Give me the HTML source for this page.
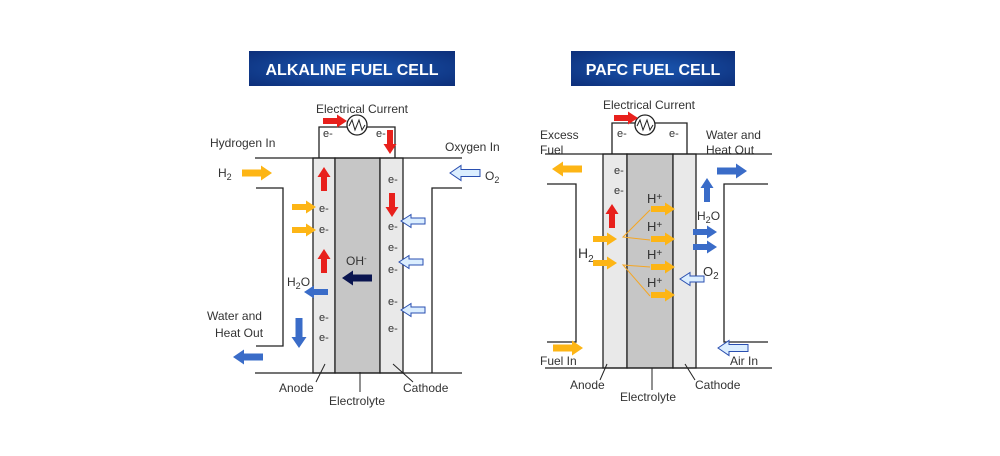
<!DOCTYPE html>
<html><head><meta charset="utf-8"><style>
html,body{margin:0;padding:0;background:#fff;width:1000px;height:456px;overflow:hidden}
svg{display:block}
text{font-family:"Liberation Sans",Arial,sans-serif;fill:#333}
.b{fill:url(#bg)}
</style></head><body>
<svg width="1000" height="456" viewBox="0 0 1000 456" xmlns="http://www.w3.org/2000/svg">
<defs>
<radialGradient id="bg" cx="50%" cy="50%" r="70%"><stop offset="0" stop-color="#1a56b0"/><stop offset="1" stop-color="#0d2f7a"/></radialGradient>
<polygon id="ar" points="0,-3.5 19,-3.5 19,-7.5 30,0 19,7.5 19,3.5 0,3.5"/>
<polygon id="ars" points="0,-3 14,-3 14,-6.5 24,0 14,6.5 14,3 0,3"/>
</defs>
<rect x="249" y="51" width="206" height="35" class="b"/>
<text x="352" y="75" text-anchor="middle" font-size="16" font-weight="bold" style="fill:#fff">ALKALINE FUEL CELL</text>
<rect x="571" y="51" width="164" height="35" class="b"/>
<text x="653" y="75" text-anchor="middle" font-size="16" font-weight="bold" style="fill:#fff">PAFC FUEL CELL</text>

<g stroke="#222" stroke-width="1.3" fill="none">
<rect x="313" y="158" width="22" height="215" fill="#e9e9e9"/>
<rect x="335" y="158" width="45" height="215" fill="#c6c6c6"/>
<rect x="380" y="158" width="23" height="215" fill="#e9e9e9"/>
<line x1="255" y1="158" x2="462" y2="158"/>
<line x1="255" y1="373" x2="462" y2="373"/>
<polyline points="256,188 283,188 283,346 256,346"/>
<polyline points="462,188 432,188 432,373"/>
<polyline points="319,158 319,127 395,127 395,158"/>
<circle cx="357" cy="125" r="10" fill="#fff"/>
<polyline points="349,126 352,120 355,130 359,120 362,130 365,125" stroke-width="1"/>
<line x1="316" y1="382" x2="325" y2="364" stroke-width="1"/>
<line x1="360" y1="372" x2="360" y2="392" stroke-width="1"/>
<line x1="393" y1="364" x2="413" y2="382" stroke-width="1"/>
</g>
<text x="362" y="113" text-anchor="middle" font-size="12">Electrical Current</text>
<text x="210" y="147" font-size="12">Hydrogen In</text>
<text x="218" y="177" font-size="12">H<tspan font-size="9" dy="3">2</tspan></text>
<text x="445" y="151" font-size="12">Oxygen In</text>
<text x="485" y="180" font-size="12">O<tspan font-size="9" dy="3">2</tspan></text>
<text x="346" y="265" font-size="12">OH<tspan font-size="8" dy="-4">-</tspan></text>
<text x="287" y="286" font-size="12">H<tspan font-size="9" dy="3">2</tspan><tspan dy="-3">O</tspan></text>
<text x="207" y="320" font-size="12">Water and</text>
<text x="215" y="337" font-size="12">Heat Out</text>
<text x="279" y="392" font-size="12">Anode</text>
<text x="329" y="405" font-size="12">Electrolyte</text>
<text x="403" y="392" font-size="12">Cathode</text>
<g font-size="11">
<text x="323" y="137">e-</text><text x="376" y="137">e-</text>
<text x="319" y="212">e-</text><text x="319" y="233">e-</text><text x="319" y="321">e-</text><text x="319" y="341">e-</text>
<text x="388" y="183">e-</text><text x="388" y="230">e-</text><text x="388" y="251">e-</text><text x="388" y="273">e-</text><text x="388" y="305">e-</text><text x="388" y="332">e-</text>
</g>
<g fill="#e8201c">
<use href="#ars" transform="translate(323,121)"/>
<use href="#ars" transform="translate(390,130) rotate(90)"/>
<use href="#ars" transform="translate(324,191) rotate(-90)"/>
<use href="#ars" transform="translate(324,273) rotate(-90)"/>
<use href="#ars" transform="translate(392,193) rotate(90)"/>
</g>
<g fill="#fdb515">
<use href="#ar" transform="translate(242,173)"/>
<use href="#ars" transform="translate(292,207)"/>
<use href="#ars" transform="translate(292,230)"/>
</g>
<g fill="#dbeeff" stroke="#2a4fb0" stroke-width="1">
<use href="#ars" transform="translate(425,221) rotate(180)"/>
<use href="#ars" transform="translate(423,262) rotate(180)"/>
<use href="#ars" transform="translate(425,310) rotate(180)"/>
<use href="#ar" transform="translate(480,173) rotate(180)"/>
</g>
<use href="#ar" fill="#0a1550" transform="translate(372,278) rotate(180)"/>
<g fill="#3a6cc8">
<use href="#ars" transform="translate(328,292) rotate(180)"/>
<use href="#ar" transform="translate(299,318) rotate(90)"/>
<use href="#ar" transform="translate(263,357) rotate(180)"/>
</g>

<g stroke="#222" stroke-width="1.3" fill="none">
<rect x="603" y="154" width="24" height="214" fill="#e9e9e9"/>
<rect x="627" y="154" width="46" height="214" fill="#c6c6c6"/>
<rect x="673" y="154" width="23" height="214" fill="#e9e9e9"/>
<line x1="545" y1="154" x2="772" y2="154"/>
<line x1="545" y1="368" x2="772" y2="368"/>
<polyline points="547,184 576,184 576,342 547,342"/>
<polyline points="768,184 724,184 724,342 768,342"/>
<polyline points="612,154 612,123 687,123 687,154"/>
<circle cx="645" cy="125" r="10" fill="#fff"/>
<polyline points="637,126 640,120 643,130 647,120 650,130 653,125" stroke-width="1"/>
<line x1="600" y1="380" x2="607" y2="364" stroke-width="1"/>
<line x1="652" y1="368" x2="652" y2="390" stroke-width="1"/>
<line x1="685" y1="364" x2="695" y2="380" stroke-width="1"/>
</g>
<g stroke="#f5a623" stroke-width="1" fill="none">
<polyline points="650,210 623,237 650,240"/>
<polyline points="650,267 623,265 650,296"/>
</g>
<text x="649" y="109" text-anchor="middle" font-size="12">Electrical Current</text>
<text x="540" y="139" font-size="12">Excess</text><text x="540" y="154" font-size="12">Fuel</text>
<text x="706" y="139" font-size="12">Water and</text><text x="706" y="154" font-size="12">Heat Out</text>
<text x="578" y="258" font-size="14">H<tspan font-size="10" dy="4">2</tspan></text>
<text x="697" y="220" font-size="12">H<tspan font-size="9" dy="3">2</tspan><tspan dy="-3">O</tspan></text>
<text x="703" y="276" font-size="13">O<tspan font-size="10" dy="3">2</tspan></text>
<text x="540" y="365" font-size="12">Fuel In</text>
<text x="730" y="365" font-size="12">Air In</text>
<text x="570" y="389" font-size="12">Anode</text>
<text x="620" y="401" font-size="12">Electrolyte</text>
<text x="695" y="389" font-size="12">Cathode</text>
<g font-size="13">
<text x="647" y="203">H<tspan font-size="10" dy="-3">+</tspan></text>
<text x="647" y="231">H<tspan font-size="10" dy="-3">+</tspan></text>
<text x="647" y="259">H<tspan font-size="10" dy="-3">+</tspan></text>
<text x="647" y="287">H<tspan font-size="10" dy="-3">+</tspan></text>
</g>
<g font-size="11">
<text x="617" y="137">e-</text><text x="669" y="137">e-</text>
<text x="614" y="174">e-</text><text x="614" y="194">e-</text>
</g>
<g fill="#e8201c">
<use href="#ars" transform="translate(614,118)"/>
<use href="#ars" transform="translate(612,228) rotate(-90)"/>
</g>
<g fill="#fdb515">
<use href="#ar" transform="translate(582,169) rotate(180)"/>
<use href="#ars" transform="translate(593,239)"/>
<use href="#ars" transform="translate(593,263)"/>
<use href="#ars" transform="translate(651,209)"/>
<use href="#ars" transform="translate(651,239)"/>
<use href="#ars" transform="translate(651,267)"/>
<use href="#ars" transform="translate(651,295)"/>
<use href="#ar" transform="translate(553,348)"/>
</g>
<g fill="#3a6cc8">
<use href="#ar" transform="translate(717,171)"/>
<use href="#ars" transform="translate(707,202) rotate(-90)"/>
<use href="#ars" transform="translate(693,232)"/>
<use href="#ars" transform="translate(693,247)"/>
</g>
<g fill="#dbeeff" stroke="#2a4fb0" stroke-width="1">
<use href="#ars" transform="translate(704,279) rotate(180)"/>
<use href="#ar" transform="translate(748,348) rotate(180)"/>
</g>
</svg>
</body></html>
